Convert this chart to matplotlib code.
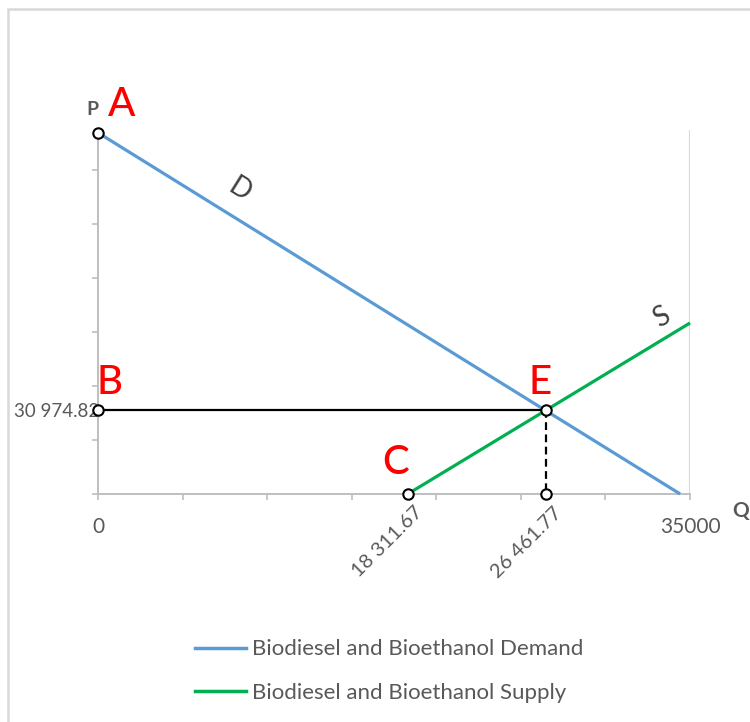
import matplotlib
matplotlib.use("Agg")
import matplotlib.pyplot as plt
from matplotlib.lines import Line2D
from matplotlib.patches import Rectangle

plt.rcParams['font.family'] = ['Lato', 'DejaVu Sans']

# ---- data ----
demand_q = [0, 34418]
demand_p = [134000, 0]
supply_q = [18311.67, 35000]
supply_p = [0, 63425]
eq_q = 26461.77
eq_p = 30974.82
c_q = 18311.67
x_max = 35000
y_max = 135000
x_minor_step = 5000
y_minor_step = 20000
legend_labels = ["Biodiesel and Bioethanol Demand", "Biodiesel and Bioethanol Supply"]

BLUE = "#5b9bd5"
GREEN = "#00b050"
GRAY = "#bfbfbf"
TXT = "#595959"

fig = plt.figure(figsize=(7.5, 7.22), dpi=100)
ax = fig.add_axes([98/750, 1-494/722, 592/750, 364/722])
ax.set_xlim(0, x_max)
ax.set_ylim(0, y_max)

for s in ['top', 'right']:
    ax.spines[s].set_visible(False)
for s in ['left', 'bottom']:
    ax.spines[s].set_color(GRAY)
    ax.spines[s].set_linewidth(1.4)

ax.set_xticks(list(range(0, x_max + 1, x_minor_step)))
ax.set_yticks(list(range(0, y_max, y_minor_step)))
ax.set_xticklabels([])
ax.set_yticklabels([])
ax.tick_params(axis='both', direction='out', length=4.5, width=1.2, color=GRAY)

# vertical gridline at max x
ax.axvline(x_max, color="#d9d9d9", lw=1.5, zorder=1)

mk = dict(marker='o', ms=7.5, mfc='white', mec='black', mew=1.5, ls='none', zorder=6, clip_on=False)

ax.plot(demand_q, demand_p, color=BLUE, lw=2.3, solid_capstyle='butt', zorder=3, clip_on=False)
ax.plot(supply_q, supply_p, color=GREEN, lw=2.3, solid_capstyle='butt', zorder=3, clip_on=False)
ax.plot([0, eq_q], [eq_p, eq_p], color='black', lw=1.6, zorder=4, clip_on=False)
ax.plot([eq_q, eq_q], [eq_p, 0], color='black', lw=1.6, ls=(0, (3.5, 2)), zorder=4, clip_on=False)

ax.plot([0], [demand_p[0]], **mk)
ax.plot([0], [eq_p], **mk)
ax.plot([c_q], [0], **mk)
ax.plot([eq_q], [eq_p], **mk)
ax.plot([eq_q], [0], **mk)

def ann(text, xy, off_px, **kw):
    ax.annotate(text, xy=xy, xytext=(off_px[0]*0.72, off_px[1]*0.72),
                textcoords='offset points', annotation_clip=False, **kw)

red = dict(color='red', fontsize=29, ha='center', va='center', fontweight='medium')
ann("A", (0, demand_p[0]), (24, 28), **red)
ann("B", (0, eq_p), (12, 28), **red)
ann("C", (c_q, 0), (-12, 31), **red)
ann("E", (eq_q, eq_p), (-5, 28), **red)

ann("P", (0, demand_p[0]), (-6, 23), color=TXT, fontsize=14, fontweight='bold', ha='center', va='center')
ann("Q", (x_max, 0), (51, -17), color=TXT, fontsize=15, fontweight='bold', ha='center', va='center')

tick_kw = dict(color=TXT, fontsize=15, ha='center', va='center')
ann("0", (0, 0), (0, -33), **tick_kw)
ann("35000", (x_max, 0), (0, -33), **tick_kw)
ann("30 974.82", (0, eq_p), (1, -1), color=TXT, fontsize=13.5, ha='right', va='center', zorder=2)

rot_kw = dict(color=TXT, fontsize=14.5, ha='right', va='center', rotation=45, rotation_mode='anchor')
ann("18 311.67", (c_q, 0), (12, -15), **rot_kw)
ann("26 461.77", (eq_q, 0), (13, -16), **rot_kw)

ax.text(8395, 113000, "D", color="#404040", fontsize=20, rotation=-32, ha='center', va='center')
ax.text(33345, 65420, "S", color="#404040", fontsize=20, rotation=30, ha='center', va='center')

handles = [Line2D([], [], color=BLUE, lw=2.5), Line2D([], [], color=GREEN, lw=2.5)]
leg = fig.legend(handles, legend_labels, loc='center left', bbox_to_anchor=(195/750, 1-671/722),
                 frameon=False, fontsize=16, handlelength=2.3, handletextpad=0.25,
                 labelspacing=1.05, borderpad=0, borderaxespad=0)
for t in leg.get_texts():
    t.set_color(TXT)

fig.add_artist(Rectangle((8/750, -0.05), 1.1, 1 - 9/722 + 0.05, transform=fig.transFigure,
                         fill=False, edgecolor="#d9d9d9", lw=1.8))

fig.savefig("out.png", dpi=100)
